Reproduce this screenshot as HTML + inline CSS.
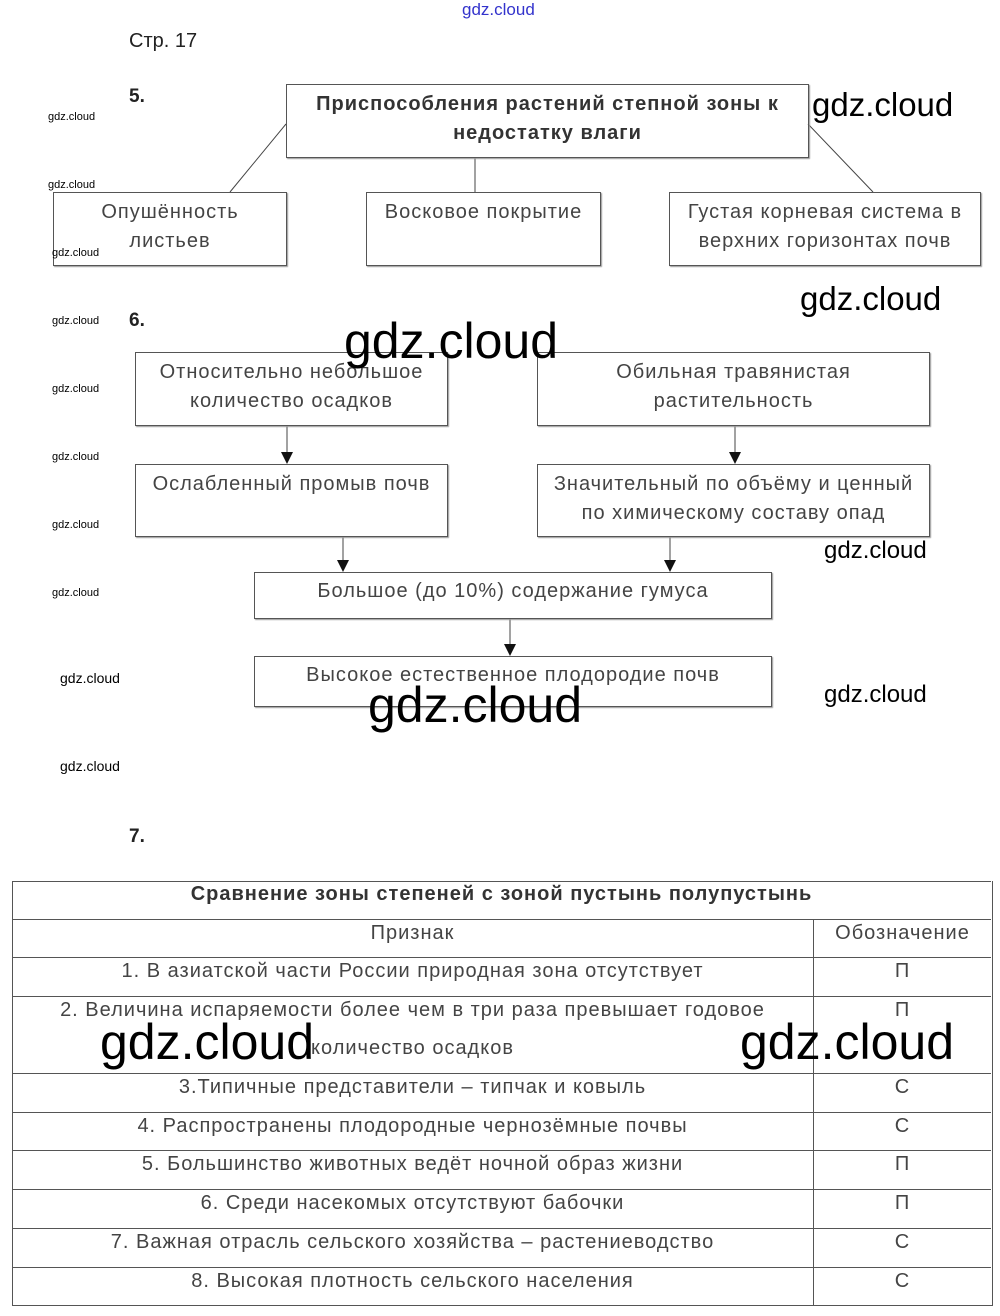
<!DOCTYPE html>
<html><head><meta charset="utf-8"><style>
body{margin:0;width:1000px;height:1316px;position:relative;background:#fff;font-family:"Liberation Sans",sans-serif;color:#333;overflow:hidden}
.a{position:absolute}
.b{position:absolute;border:1px solid #555;box-shadow:1px 1px 1px #999;box-sizing:border-box;text-align:center;font-size:20px;letter-spacing:1px;line-height:29px;padding-top:5px;color:#444;white-space:nowrap}
.w{position:absolute;font-family:"Liberation Sans",sans-serif;color:#000}
.n{position:absolute;font-size:19px;font-weight:bold;color:#222}
.h{position:absolute;left:12px;width:979px;height:0;border-top:1px solid #555}
.t{position:absolute;font-size:20px;letter-spacing:1px;color:#444;text-align:center;line-height:28px;white-space:nowrap}
</style></head><body>
<div class="w" style="left:462px;top:0;font-size:17px;color:#33c">gdz.cloud</div>
<div class="n" style="left:129px;top:30px;font-weight:normal;font-size:20px">Стр. 17</div>
<div class="n" style="left:129px;top:86px">5.</div>
<div class="n" style="left:129px;top:310px">6.</div>
<div class="n" style="left:129px;top:826px">7.</div>

<svg class="a" style="left:0;top:0" width="1000" height="1316">
<g stroke="#444" stroke-width="1" fill="none">
<line x1="286" y1="124" x2="230" y2="192"/><line x1="475" y1="157" x2="475" y2="192"/><line x1="808" y1="124" x2="873" y2="192"/>
<line x1="287" y1="425" x2="287" y2="455"/><line x1="735" y1="425" x2="735" y2="455"/>
<line x1="343" y1="536" x2="343" y2="563"/><line x1="670" y1="536" x2="670" y2="563"/>
<line x1="510" y1="618" x2="510" y2="647"/>
</g>
<g fill="#111">
<polygon points="281,452 293,452 287,464"/><polygon points="729,452 741,452 735,464"/>
<polygon points="337,560 349,560 343,572"/><polygon points="664,560 676,560 670,572"/>
<polygon points="504,644 516,644 510,656"/>
</g></svg>

<div class="b" style="left:286px;top:84px;width:523px;height:74px;font-weight:bold;color:#333">Приспособления растений степной зоны к<br>недостатку влаги</div>
<div class="b" style="left:53px;top:192px;width:234px;height:74px">Опушённость<br>листьев</div>
<div class="b" style="left:366px;top:192px;width:235px;height:74px">Восковое покрытие</div>
<div class="b" style="left:669px;top:192px;width:312px;height:74px">Густая корневая система в<br>верхних горизонтах почв</div>

<div class="b" style="left:135px;top:352px;width:313px;height:74px">Относительно небольшое<br>количество осадков</div>
<div class="b" style="left:537px;top:352px;width:393px;height:74px">Обильная травянистая<br>растительность</div>
<div class="b" style="left:135px;top:464px;width:313px;height:73px">Ослабленный промыв почв</div>
<div class="b" style="left:537px;top:464px;width:393px;height:73px">Значительный по объёму и ценный<br>по химическому составу опад</div>
<div class="b" style="left:254px;top:572px;width:518px;height:47px;padding-top:4px">Большое (до 10%) содержание гумуса</div>
<div class="b" style="left:254px;top:656px;width:518px;height:51px;padding-top:4px">Высокое естественное плодородие почв</div>

<div class="a" style="left:12px;top:881px;width:979px;height:424px;border-left:1px solid #555;border-right:1px solid #555;border-bottom:1px solid #555"></div>
<div class="a" style="left:813px;top:919px;width:0;height:386px;border-left:1px solid #555"></div>
<div class="h" style="top:881px"></div><div class="h" style="top:919px"></div><div class="h" style="top:957px"></div>
<div class="h" style="top:996px"></div><div class="h" style="top:1073px"></div><div class="h" style="top:1112px"></div>
<div class="h" style="top:1150px"></div><div class="h" style="top:1189px"></div><div class="h" style="top:1228px"></div>
<div class="h" style="top:1267px"></div>

<div class="t" style="left:12px;width:979px;top:880px;font-weight:bold;color:#333">Сравнение зоны степеней с зоной пустынь полупустынь</div>
<div class="t" style="left:12px;width:801px;top:919px">Признак</div>
<div class="t" style="left:814px;width:177px;top:919px">Обозначение</div>
<div class="t" style="left:12px;width:801px;top:957px">1. В азиатской части России природная зона отсутствует</div>
<div class="t" style="left:12px;width:801px;top:996px">2. Величина испаряемости более чем в три раза превышает годовое</div>
<div class="t" style="left:12px;width:801px;top:1034px">количество осадков</div>
<div class="t" style="left:12px;width:801px;top:1073px">3.Типичные представители – типчак и ковыль</div>
<div class="t" style="left:12px;width:801px;top:1112px">4. Распространены плодородные чернозёмные почвы</div>
<div class="t" style="left:12px;width:801px;top:1150px">5. Большинство животных ведёт ночной образ жизни</div>
<div class="t" style="left:12px;width:801px;top:1189px">6. Среди насекомых отсутствуют бабочки</div>
<div class="t" style="left:12px;width:801px;top:1228px">7. Важная отрасль сельского хозяйства – растениеводство</div>
<div class="t" style="left:12px;width:801px;top:1267px">8. Высокая плотность сельского населения</div>
<div class="t" style="left:814px;width:177px;top:957px">П</div>
<div class="t" style="left:814px;width:177px;top:996px">П</div>
<div class="t" style="left:814px;width:177px;top:1073px">С</div>
<div class="t" style="left:814px;width:177px;top:1112px">С</div>
<div class="t" style="left:814px;width:177px;top:1150px">П</div>
<div class="t" style="left:814px;width:177px;top:1189px">П</div>
<div class="t" style="left:814px;width:177px;top:1228px">С</div>
<div class="t" style="left:814px;width:177px;top:1267px">С</div>

<div class="w" style="left:48px;top:111px;font-size:11px">gdz.cloud</div>
<div class="w" style="left:48px;top:179px;font-size:11px">gdz.cloud</div>
<div class="w" style="left:52px;top:247px;font-size:11px">gdz.cloud</div>
<div class="w" style="left:52px;top:315px;font-size:11px">gdz.cloud</div>
<div class="w" style="left:52px;top:383px;font-size:11px">gdz.cloud</div>
<div class="w" style="left:52px;top:451px;font-size:11px">gdz.cloud</div>
<div class="w" style="left:52px;top:519px;font-size:11px">gdz.cloud</div>
<div class="w" style="left:52px;top:587px;font-size:11px">gdz.cloud</div>
<div class="w" style="left:60px;top:670px;font-size:14px">gdz.cloud</div>
<div class="w" style="left:60px;top:758px;font-size:14px">gdz.cloud</div>
<div class="w" style="left:812px;top:86px;font-size:33px">gdz.cloud</div>
<div class="w" style="left:800px;top:280px;font-size:33px">gdz.cloud</div>
<div class="w" style="left:344px;top:312px;font-size:50px">gdz.cloud</div>
<div class="w" style="left:824px;top:537px;font-size:24px">gdz.cloud</div>
<div class="w" style="left:824px;top:681px;font-size:24px">gdz.cloud</div>
<div class="w" style="left:368px;top:676px;font-size:50px">gdz.cloud</div>
<div class="w" style="left:100px;top:1013px;font-size:50px">gdz.cloud</div>
<div class="w" style="left:740px;top:1013px;font-size:50px">gdz.cloud</div>
</body></html>
